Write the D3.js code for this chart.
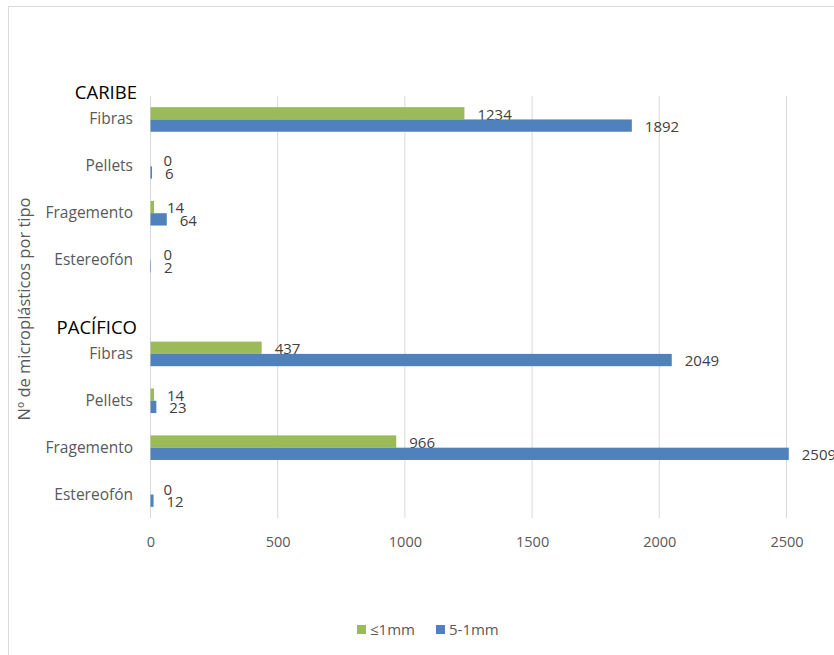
<!DOCTYPE html>
<html><head><meta charset="utf-8">
<script src="https://cdn.jsdelivr.net/npm/d3@7"></script>
<style>
body{margin:0;background:#fff;}
svg{font-family:"Open Sans", Carlito, Calibri, sans-serif;}
</style></head>
<body>
<svg id="chart" width="834" height="655"></svg>
<script>
const categories = ["C-Fibras","C-Pellets","C-Fragemento","C-Estereofón","gap","P-Fibras","P-Pellets","P-Fragemento","P-Estereofón"];
const categoryLabels = ["Fibras","Pellets","Fragemento","Estereofón","","Fibras","Pellets","Fragemento","Estereofón"];
const groupLabels = [{name:"CARIBE", at:"C-Fibras"},{name:"PACÍFICO", at:"P-Fibras"}];
const seriesNames = ["≤1mm","5-1mm"];
const small = [1234, 0, 14, 0, null, 437, 14, 966, 0];
const large = [1892, 6, 64, 2, null, 2049, 23, 2509, 12];
const colors = ["#9BBB59","#4F81BD"];
const xTicks = [0,500,1000,1500,2000,2500];

const FONT = "'Open Sans', Carlito, Calibri, sans-serif";
const svg = d3.select("#chart");
// outer border
svg.append("rect").attr("x",8.5).attr("y",6.5).attr("width",840).attr("height",660)
  .attr("fill","none").attr("stroke","#d9d9d9").attr("stroke-width",1);

const x = d3.scaleLinear().domain([0,2500]).range([150.5,786.5]);
const y = d3.scaleBand().domain(categories).range([96,518]).padding(0);
const ys = d3.scaleBand().domain(seriesNames).range([-12.3,12.3]);

// gridlines
svg.append("g").selectAll("line").data(xTicks).join("line")
  .attr("x1",d=>x(d)).attr("x2",d=>x(d)).attr("y1",96).attr("y2",518)
  .attr("stroke","#d9d9d9").attr("stroke-width",1);

// x axis labels
const xAxis = d3.axisBottom(x).tickValues(xTicks).tickFormat(d3.format("d")).tickSize(0).tickPadding(0);
const gx = svg.append("g").attr("transform","translate(0,536)").call(xAxis);
gx.select(".domain").remove();
gx.selectAll("text").attr("font-size",14.5).attr("fill","#595959").attr("dy","0.75em")
  .style("font-family",FONT);

// y axis labels
const yAxis = d3.axisLeft(y).tickFormat((d,i)=>categoryLabels[i]).tickSize(0).tickPadding(0);
const gy = svg.append("g").attr("transform","translate(133,0)").call(yAxis);
gy.select(".domain").remove();
gy.selectAll("text").attr("font-size",15.5).attr("fill","#595959")
  .style("font-family",FONT);

// group headings
svg.append("g").selectAll("text").data(groupLabels).join("text")
  .attr("x",137).attr("y",d=>y(d.at)+y.bandwidth()/2-20)
  .attr("text-anchor","end").attr("font-size",18.5).attr("fill","#000")
  .text(d=>d.name);

// bars
const seriesData = [small, large];
seriesData.forEach((vals, si) => {
  const rows = categories.map((c,i)=>({c, v: vals[i]})).filter(d=>d.v!==null);
  const g = svg.append("g");
  g.selectAll("rect").data(rows).join("rect")
    .attr("x", x(0))
    .attr("y", d => y(d.c)+y.bandwidth()/2+ys(seriesNames[si]))
    .attr("width", d => x(d.v)-x(0))
    .attr("height", ys.bandwidth())
    .attr("fill", colors[si]);
  g.selectAll("text").data(rows).join("text")
    .attr("x", d => x(d.v)+13)
    .attr("y", d => y(d.c)+y.bandwidth()/2+ys(seriesNames[si])+ys.bandwidth()/2+1)
    .attr("dy","0.35em")
    .attr("font-size",15).attr("fill","#404040")
    .text(d=>d.v);
});

// axis title
svg.append("text")
  .attr("transform","translate(30,309) rotate(-90)")
  .attr("text-anchor","middle").attr("font-size",16.5).attr("fill","#595959")
  .text("Nº de microplásticos por tipo");

// legend
const legend = svg.append("g");
const legendX = [357, 436];
seriesNames.forEach((s,i)=>{
  legend.append("rect").attr("x",legendX[i]).attr("y",625).attr("width",9).attr("height",9).attr("fill",colors[i]);
  legend.append("text").attr("x",legendX[i]+13).attr("y",629.5).attr("dy","0.35em")
    .attr("font-size",15).attr("fill","#595959").text(s);
});
</script>
</body></html>
